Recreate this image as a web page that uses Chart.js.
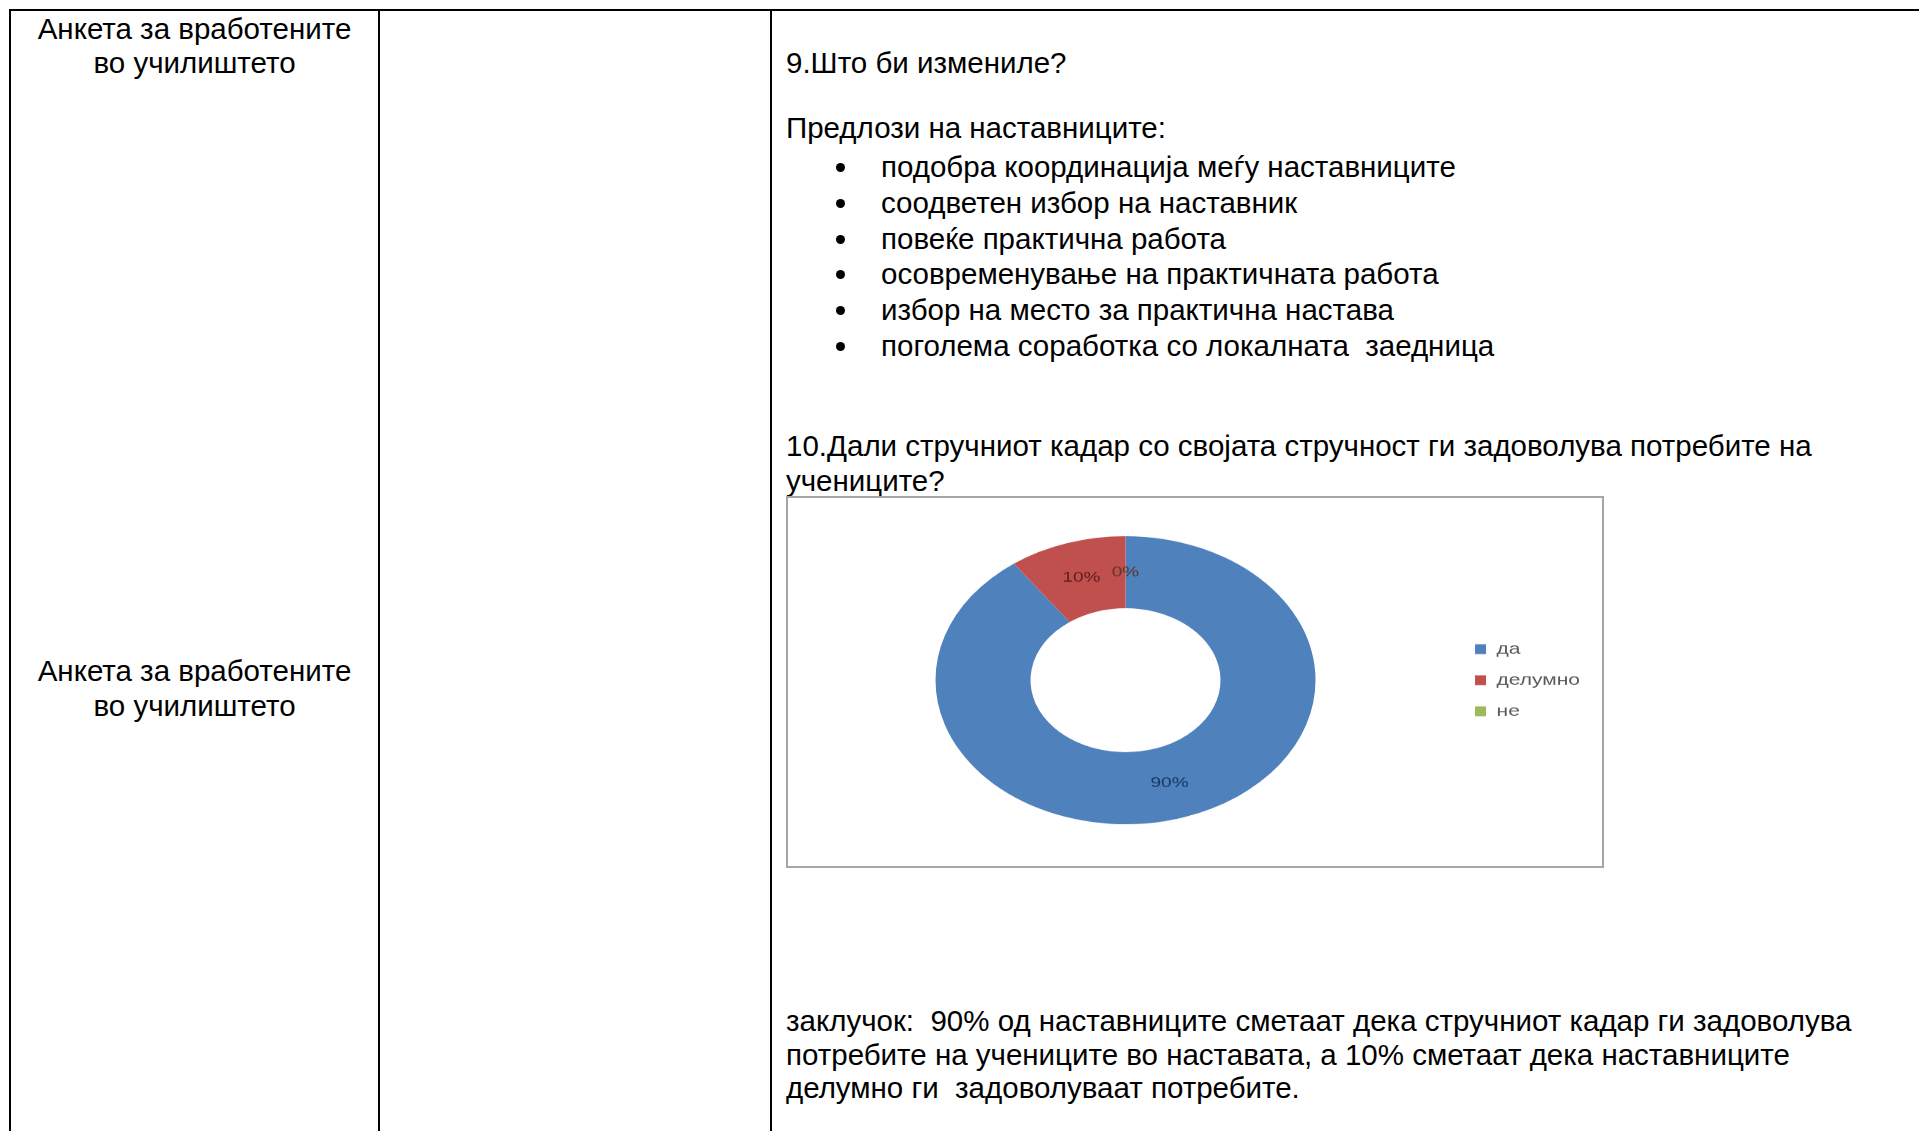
<!DOCTYPE html>
<html>
<head>
<meta charset="utf-8">
<script src="https://cdn.jsdelivr.net/npm/chart.js@4.4.0/dist/chart.umd.min.js"></script>
<style>
  body { margin: 0; background: #fff; width: 1919px; height: 1131px; overflow: hidden; position: relative;
         font-family: "Liberation Sans", Arial, sans-serif; font-size: 29.5px; color: #000; }
  .vline { position: absolute; top: 9px; bottom: 0; width: 2px; background: #000; }
  .hline { position: absolute; left: 9px; right: 0; top: 9px; height: 2px; background: #000; }
  .txt { position: absolute; white-space: nowrap; }
  .left { left: 10px; width: 369px; text-align: center; line-height: 34px; }
  .bullets { left: 881px; line-height: 35.8px; }
  .dot { position: absolute; left: -45px; width: 9px; height: 9px; border-radius: 50%; background: #000; }
  #chartBox { position: absolute; left: 786px; top: 496px; width: 814px; height: 368px;
              border: 2px solid #a6a6a6; pointer-events: none; z-index: 2; }
  #chartWrap { position: absolute; left: 786px; top: 496px; width: 816px; height: 488px;
               transform: scaleY(0.758); transform-origin: 0 0; }
</style>
</head>
<body>
<div class="hline"></div>
<div class="vline" style="left:9px"></div>
<div class="vline" style="left:378px"></div>
<div class="vline" style="left:770px"></div>

<div class="txt left" style="top:12px">Анкета за вработените<br>во училиштето</div>
<div class="txt left" style="top:653px;line-height:35px">Анкета за вработените<br>во училиштето</div>

<div class="txt" style="left:786px;top:46px">9.Што би измениле?</div>
<div class="txt" style="left:786px;top:111px">Предлози на наставниците:</div>
<div class="txt bullets" style="top:149px">
  <div style="position:relative"><span class="dot" style="top:14px"></span>подобра координација меѓу наставниците</div>
  <div style="position:relative"><span class="dot" style="top:14px"></span>соодветен избор на наставник</div>
  <div style="position:relative"><span class="dot" style="top:14px"></span>повеќе практична работа</div>
  <div style="position:relative"><span class="dot" style="top:14px"></span>осовременување на практичната работа</div>
  <div style="position:relative"><span class="dot" style="top:14px"></span>избор на место за практична настава</div>
  <div style="position:relative"><span class="dot" style="top:14px"></span>поголема соработка со локалната&nbsp; заедница</div>
</div>
<div class="txt" style="left:786px;top:428px;line-height:35px">10.Дали стручниот кадар со својата стручност ги задоволува потребите на<br>учениците?</div>

<div id="chartWrap"><canvas id="donut"></canvas></div>
<div id="chartBox"></div>

<div class="txt" style="left:786px;top:1004px;line-height:33.5px">заклучок:&nbsp; 90% од наставниците сметаат дека стручниот кадар ги задоволува<br>потребите на учениците во наставата, а 10% сметаат дека наставниците<br>делумно ги&nbsp; задоволуваат потребите.</div>

<script>
// survey answers, question 10
const answers = ["да", "делумно", "не"];
const percents = [90, 10, 0];
const sliceColors = ["#4F81BD", "#C0504D", "#9BBB59"];
const labelColors = ["#1A3663", "#5E1C1A", "#5E3328"];

// percent labels in the middle of each ring segment
const ringLabels = {
  id: "ringLabels",
  afterDatasetsDraw(chart) {
    const ctx = chart.ctx;
    const meta = chart.getDatasetMeta(0);
    ctx.save();
    ctx.font = "19px 'Liberation Sans', Arial, sans-serif";
    ctx.textAlign = "center";
    ctx.textBaseline = "middle";
    meta.data.forEach((arc, i) => {
      const pos = arc.tooltipPosition();
      ctx.fillStyle = labelColors[i];
      ctx.fillText(percents[i] + "%", pos.x, pos.y);
    });
    ctx.restore();
  }
};

document.addEventListener("DOMContentLoaded", function () {
  new Chart(document.getElementById("donut"), {
    type: "doughnut",
    data: {
      labels: answers,
      datasets: [{
        data: percents,
        backgroundColor: sliceColors,
        borderWidth: 0
      }]
    },
    options: {
      responsive: true,
      maintainAspectRatio: false,
      animation: false,
      cutout: "50%",
      layout: { padding: { left: 10, right: 12, top: 53, bottom: 55 } },
      plugins: {
        tooltip: { enabled: false },
        legend: {
          position: "right",
          align: "center",
          labels: {
            boxWidth: 11,
            boxHeight: 13,
            padding: 20,
            color: "#595959",
            font: { family: "'Liberation Sans', Arial, sans-serif", size: 21 }
          }
        }
      }
    },
    plugins: [ringLabels]
  });
});
</script>
</body>
</html>
